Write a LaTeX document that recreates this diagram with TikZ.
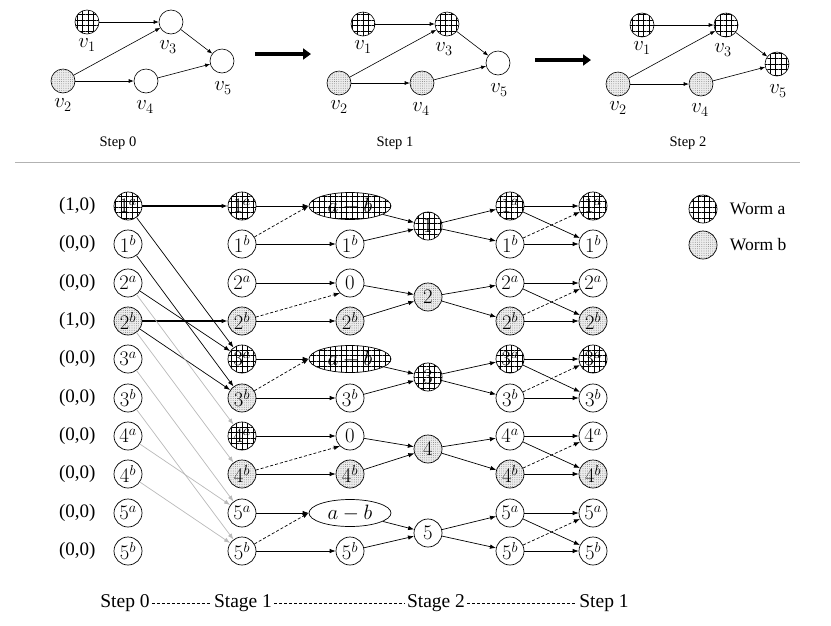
\documentclass[tikz,border=0pt]{standalone}
\usepackage{fontspec}
\setmainfont{Liberation Serif}
\usetikzlibrary{arrows.meta,shapes.geometric,patterns.meta,positioning}

\tikzset{
  vert/.style={circle, draw, line width=0.7pt, minimum size=28pt, inner sep=0pt,
    font=\fontsize{20}{20}\selectfont},
  merged/.style={ellipse, draw, line width=0.7pt, minimum width=82pt, minimum height=27pt,
    inner sep=0pt, font=\fontsize{20}{20}\selectfont},
  topv/.style={circle, draw, line width=0.6pt, minimum size=24pt, inner sep=0pt},
  worma/.style={pattern={Hatch[angle=0, distance=5.5pt, line width=0.4pt]}},
  wormb/.style={preaction={fill=gray!15}, pattern={Dots[distance=2.2pt, radius=0.35pt]},
    pattern color=gray!60!black},
  plain/.style={},
  link/.style={-{Latex[length=6pt, width=4.5pt]}, line width=0.7pt},
  idle/.style={link, draw=gray!55},
  carry/.style={link, line width=1.4pt},
  maybe/.style={link, dash pattern=on 3pt off 2pt},
  thin link/.style={-{Latex[length=5pt, width=4pt]}, line width=0.6pt},
  bigarrow/.style={-{Triangle[length=8pt, width=11pt]}, line width=4pt},
  lbl/.style={font=\fontsize{19}{19}\selectfont},
  keylbl/.style={font=\fontsize{17.5}{18}\selectfont},
  vlbl/.style={font=\fontsize{20}{20}\selectfont, inner sep=0pt},
  steplbl/.style={font=\fontsize{14.5}{16}\selectfont},
  footlbl/.style={font=\fontsize{19.5}{20}\selectfont, inner sep=2pt},
}

\begin{document}
\begin{tikzpicture}[x=1pt, y=-1pt]
  \useasboundingbox (0,0) rectangle (831,625);

  % the worms on the small graph, step by step
  \foreach \k/\x/\y/\fc/\fd/\fe/\tx in {0/87/22/plain/plain/plain/118,
      1/363/24/worma/wormb/plain/395, 2/642/25/worma/wormb/worma/688} {
    \node[topv, worma] (g\k-1) at (\x, \y) {};
    \node[topv, wormb] (g\k-2) at (\x-24, \y+59) {};
    \node[topv, \fc]   (g\k-3) at (\x+84, \y) {};
    \node[topv, \fd]   (g\k-4) at (\x+59, \y+59) {};
    \node[topv, \fe]   (g\k-5) at (\x+135, \y+39) {};
    \node[vlbl] (g\k-t1) at (\x, \y+23) {$v_1$};
    \node[vlbl] (g\k-t2) at (\x-24, \y+83) {$v_2$};
    \node[vlbl] (g\k-t3) at (\x+81, \y+25) {$v_3$};
    \node[vlbl] (g\k-t4) at (\x+58, \y+85) {$v_4$};
    \node[vlbl] (g\k-t5) at (\x+136, \y+66) {$v_5$};
    \draw[thin link] (g\k-1) -- (g\k-3);
    \draw[thin link] (g\k-2) -- (g\k-3);
    \draw[thin link] (g\k-2) -- (g\k-4);
    \draw[thin link] (g\k-3) -- (g\k-5);
    \draw[thin link] (g\k-4) -- (g\k-5);
    \node[steplbl] (g\k-step) at (\tx, 143) {Step \k};
  }

  \coordinate (ar1a) at (255,54);
  \coordinate (ar1b) at (311,54);
  \coordinate (ar2a) at (535,60);
  \coordinate (ar2b) at (591,60);
  \draw[bigarrow] (ar1a) -- (ar1b);
  \draw[bigarrow] (ar2a) -- (ar2b);

  \draw[gray!60, line width=0.6pt] (15,162) -- (800,162);

  % step 0
  \foreach \i/\s/\y/\f/\t in {1/a/206/worma/{(1,0)}, 1/b/244/plain/{(0,0)},
      2/a/283/plain/{(0,0)}, 2/b/321/wormb/{(1,0)}, 3/a/359/plain/{(0,0)},
      3/b/398/plain/{(0,0)}, 4/a/436/plain/{(0,0)}, 4/b/474/plain/{(0,0)},
      5/a/513/plain/{(0,0)}, 5/b/551/plain/{(0,0)}} {
    \node[vert, \f] (c0-\i\s) at (128, \y) {$\i^\s$};
    \node[lbl, anchor=east] (st-\i\s) at (99, \y) {\t};
  }

  % stage 1
  \foreach \i/\s/\y/\f in {1/a/206/worma, 1/b/244/plain, 2/a/283/plain, 2/b/321/wormb,
      3/a/359/worma, 3/b/398/wormb, 4/a/436/worma, 4/b/474/wormb,
      5/a/513/plain, 5/b/551/plain}
    \node[vert, \f] (c1-\i\s) at (242, \y) {$\i^\s$};

  % stage 2
  \foreach \i/\y/\s/\f/\t in {1/206/merged/worma/a-b, 2/283/vert/plain/0,
      3/359/merged/worma/a-b, 4/436/vert/plain/0, 5/513/merged/plain/a-b}
    \node[\s, \f] (c2-\i) at (350, \y) {$\t$};
  \foreach \i/\y/\f in {1/244/plain, 2/321/wormb, 3/398/plain, 4/474/wormb, 5/551/plain}
    \node[vert, \f] (c2-\i b) at (350, \y) {$\i^b$};
  \foreach \i/\y/\f in {1/226/worma, 2/297/wormb, 3/377/worma, 4/449/wormb, 5/533/plain}
    \node[vert, \f] (c3-\i) at (428, \y) {$\i$};

  % step 1
  \foreach \x/\c in {510/c4, 593/c5}
    \foreach \i/\s/\y/\f in {1/a/206/worma, 1/b/244/plain, 2/a/283/plain, 2/b/321/wormb,
        3/a/359/worma, 3/b/398/plain, 4/a/436/plain, 4/b/474/wormb,
        5/a/513/plain, 5/b/551/plain}
      \node[vert, \f] (\c-\i\s) at (\x, \y) {$\i^\s$};

  \draw[carry] (c0-1a) -- (c1-1a);
  \draw[carry] (c0-2b) -- (c1-2b);
  \foreach \p/\q in {1a/3a, 1b/3b, 2a/3a, 2b/3b}
    \draw[link] (c0-\p) -- (c1-\q);
  \foreach \p/\q in {2a/4a, 2b/4b, 3a/5a, 3b/5b, 4a/5a, 4b/5b}
    \draw[idle] (c0-\p) -- (c1-\q);

  \foreach \i/\e in {1/west, 2/south west, 3/west, 4/south west, 5/west} {
    \draw[link]  (c1-\i a) -- (c2-\i.west);
    \draw[maybe] (c1-\i b) -- (c2-\i.\e);
    \draw[link]  (c1-\i b) -- (c2-\i b);
    \draw[link]  (c2-\i) -- (c3-\i);
    \draw[link]  (c2-\i b) -- (c3-\i);
    \draw[link]  (c3-\i) -- (c4-\i a);
    \draw[link]  (c3-\i) -- (c4-\i b);
    \draw[link]  (c4-\i a) -- (c5-\i a);
    \draw[link]  (c4-\i a) -- (c5-\i b);
    \draw[maybe] (c4-\i b) -- (c5-\i a);
    \draw[link]  (c4-\i b) -- (c5-\i b);
  }

  % legend
  \node[vert, worma] (keya) at (703,209) {};
  \node[keylbl, right=9pt of keya] (keya-txt) {Worm a};
  \node[vert, wormb] (keyb) at (703,245) {};
  \node[keylbl, right=9pt of keyb] (keyb-txt) {Worm b};

  % time line
  \node[footlbl] (ft0) at (125,603) {Step 0};
  \node[footlbl] (ft1) at (243,603) {Stage 1};
  \node[footlbl] (ft2) at (436,603) {Stage 2};
  \node[footlbl] (ft3) at (604,603) {Step 1};
  \draw[dash pattern=on 3pt off 2pt, line width=0.6pt] (ft0) -- (ft1);
  \draw[dash pattern=on 3pt off 2pt, line width=0.6pt] (ft1) -- (ft2);
  \draw[dash pattern=on 3pt off 2pt, line width=0.6pt] (ft2) -- (ft3);
\end{tikzpicture}
\end{document}
